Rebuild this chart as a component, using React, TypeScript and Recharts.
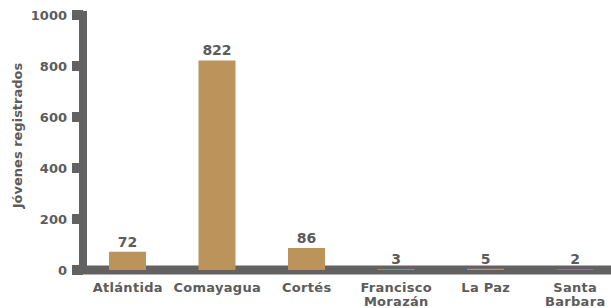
import React from 'react';
import { BarChart, Bar, XAxis, YAxis, LabelList, Text } from 'recharts';

const categories = ['Atlántida', 'Comayagua', 'Cortés', 'Francisco Morazán', 'La Paz', 'Santa Barbara'];
const registrados = [72, 822, 86, 3, 5, 2];
const yTicks = [0, 200, 400, 600, 800, 1000];

const data = categories.map((name, i) => ({ name, value: registrados[i] }));

const FONT = '"DejaVu Sans", sans-serif';
const TEXT = '#5c5c5c';
const AXIS = '#626262';
const BAR = '#BB945B';

const CategoryTick = (props: any) => {
  const { x, y, payload } = props;
  return (
    <Text
      x={x}
      y={y}
      width={82}
      lineHeight={14}
      textAnchor="middle"
      verticalAnchor="start"
      fill={TEXT}
      fontSize={13}
      fontWeight="bold"
      fontFamily={FONT}
      letterSpacing={0.3}
    >
      {payload.value}
    </Text>
  );
};

const YLabel = (props: any) => {
  const vb = props.viewBox || {};
  const cx = 17.5;
  const cy = (vb.y ?? 15) + (vb.height ?? 255) / 2 - 7;
  return (
    <text
      x={cx}
      y={cy}
      transform={`rotate(-90, ${cx}, ${cy})`}
      textAnchor="middle"
      dominantBaseline="central"
      fill={TEXT}
      fontSize={13}
      fontWeight="bold"
      fontFamily={FONT}
    >
      Jóvenes registrados
    </text>
  );
};

export default function App() {
  return (
    <div style={{ position: 'fixed', left: 0, top: 0, width: 611, height: 308, overflow: 'hidden', background: '#fff' }}>
      <BarChart
        width={630}
        height={308}
        data={data}
        margin={{ top: 15, right: 10, left: 0, bottom: 8 }}
      >
        <XAxis
          dataKey="name"
          height={30}
          interval={0}
          tickLine={false}
          tickSize={0}
          tickMargin={13}
          axisLine={{ stroke: AXIS, strokeWidth: 9, strokeLinecap: 'square' }}
          tick={<CategoryTick />}
        />
        <YAxis
          width={83}
          domain={[0, 1000]}
          ticks={yTicks}
          interval={0}
          tickSize={11}
          tickMargin={5}
          tickLine={{ stroke: AXIS, strokeWidth: 10 }}
          axisLine={{ stroke: AXIS, strokeWidth: 8, strokeLinecap: 'square' }}
          tick={{ fill: TEXT, fontSize: 13, fontWeight: 'bold', fontFamily: FONT }}
          label={<YLabel />}
        />
        <Bar dataKey="value" fill={BAR} barSize={37} isAnimationActive={false} zIndex={700}>
          <LabelList
            dataKey="value"
            position="top"
            offset={5}
            fill={TEXT}
            fontSize={14}
            fontWeight="bold"
            fontFamily={FONT}
          />
        </Bar>
      </BarChart>
    </div>
  );
}
